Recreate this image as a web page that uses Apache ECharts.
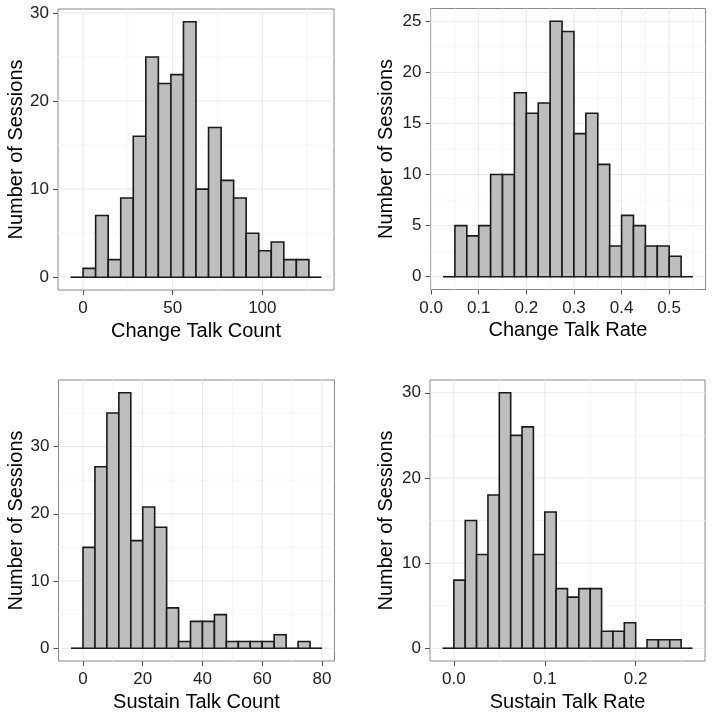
<!DOCTYPE html>
<html>
<head>
<meta charset="utf-8">
<script src="https://cdn.jsdelivr.net/npm/echarts@6/dist/echarts.min.js"></script>
<style>html,body{margin:0;padding:0;background:#fff}#c{width:714px;height:716px}</style>
</head>
<body>
<div id="c"></div>
<script>
// ---- Data (histogram counts; end bins are empty padding bins) ----
const ctCountStart = -7, ctCountWidth = 7;
const ctCount = [0,1,7,2,9,16,25,22,23,29,10,17,11,9,5,3,4,2,2,0];

const ctRateStart = 0.025, ctRateWidth = 0.025;
const ctRate = [0,5,4,5,10,10,18,16,17,25,24,14,16,11,3,6,5,3,3,2,0];

const stCountStart = -4, stCountWidth = 4;
const stCount = [0,15,27,35,38,16,21,18,6,1,4,4,5,1,1,1,1,2,0,1,0];

const stRateStart = -0.0125, stRateWidth = 0.0125;
const stRate = [0,8,15,11,18,30,25,26,11,16,7,6,7,7,2,2,3,0,1,1,1,0];

// tick labels
const xTicks1 = [0,50,100],            xMinor1 = [25,75,125];
const yTicks1 = [0,10,20,30],          yMinor1 = [5,15,25];
const xTicks2 = [0,0.1,0.2,0.3,0.4,0.5], xMinor2 = [0.05,0.15,0.25,0.35,0.45,0.55];
const yTicks2 = [0,5,10,15,20,25],     yMinor2 = [2.5,7.5,12.5,17.5,22.5];
const xTicks3 = [0,20,40,60,80],       xMinor3 = [10,30,50,70];
const yTicks3 = [0,10,20,30],          yMinor3 = [5,15,25,35];
const xTicks4 = [0,0.1,0.2],           xMinor4 = [0.05,0.15,0.25];
const yTicks4 = [0,10,20,30],          yMinor4 = [5,15,25];

const xTitles = ['Change Talk Count','Change Talk Rate','Sustain Talk Count','Sustain Talk Rate'];
const yTitle = 'Number of Sessions';

// ---- Build ----
const FONT = '"Liberation Sans", Arial, sans-serif';
const panels = [
  {start: ctCountStart, w: ctCountWidth, counts: ctCount, xt: xTicks1, xm: xMinor1, yt: yTicks1, ym: yMinor1, dec: 0,
   grid: {left: 58, top: 9, width: 276, height: 281}, xr: [-14, 140], yr: [-1.45, 30.45], yGap: 31},
  {start: ctRateStart, w: ctRateWidth, counts: ctRate, xt: xTicks2, xm: xMinor2, yt: yTicks2, ym: yMinor2, dec: 1,
   grid: {left: 430.5, top: 8.5, width: 275, height: 281}, xr: [-0.00125, 0.57625], yr: [-1.25, 26.25], yGap: 34},
  {start: stCountStart, w: stCountWidth, counts: stCount, xt: xTicks3, xm: xMinor3, yt: yTicks3, ym: yMinor3, dec: 0,
   grid: {left: 58.5, top: 380, width: 276, height: 281}, xr: [-8.2, 84.2], yr: [-1.9, 39.9], yGap: 31},
  {start: stRateStart, w: stRateWidth, counts: stRate, xt: xTicks4, xm: xMinor4, yt: yTicks4, ym: yMinor4, dec: 1,
   grid: {left: 430, top: 380, width: 275, height: 281}, xr: [-0.02625, 0.27625], yr: [-1.5, 31.5], yGap: 34}
];

const grids = [], xAxes = [], yAxes = [], series = [];
panels.forEach((p, i) => {
  grids.push(Object.assign({show: true, borderColor: '#8a8a8a', borderWidth: 1, backgroundColor: '#fff',
    containLabel: false, outerBoundsMode: 'none'}, p.grid));
  xAxes.push({
    type: 'value', gridIndex: i, min: p.xr[0], max: p.xr[1],
    axisLine: {show: false, onZero: false}, splitLine: {show: false},
    axisTick: {show: true, length: 5, customValues: p.xt, lineStyle: {color: '#555', width: 1}},
    axisLabel: {customValues: p.xt, margin: 10, color: '#222', fontSize: 17, fontFamily: FONT,
      formatter: v => Number(v).toFixed(p.dec)},
    name: xTitles[i], nameLocation: 'middle', nameGap: 31,
    nameTextStyle: {fontSize: 20, color: '#000', fontFamily: FONT}
  });
  yAxes.push({
    type: 'value', gridIndex: i, min: p.yr[0], max: p.yr[1],
    axisLine: {show: false, onZero: false}, splitLine: {show: false},
    axisTick: {show: true, length: 5, customValues: p.yt, lineStyle: {color: '#555', width: 1}},
    axisLabel: {customValues: p.yt, margin: 9, color: '#222', fontSize: 17, fontFamily: FONT},
    name: yTitle, nameLocation: 'middle', nameGap: p.yGap,
    nameTextStyle: {fontSize: 20, color: '#000', fontFamily: FONT}
  });
  // grid lines (major/minor) from tick arrays
  const gl = [];
  p.xm.forEach(v => gl.push([v, 0, 0]));
  p.ym.forEach(v => gl.push([0, v, 1]));
  p.xt.forEach(v => gl.push([v, 0, 2]));
  p.yt.forEach(v => gl.push([0, v, 3]));
  series.push({
    type: 'custom', xAxisIndex: i, yAxisIndex: i, silent: true, z: 1,
    data: gl,
    renderItem: (params, api) => {
      const cs = params.coordSys;
      const kind = api.value(2);
      const color = kind < 2 ? '#f5f5f5' : '#e8e8e8';
      let shape;
      if (kind === 0 || kind === 2) {
        const x = api.coord([api.value(0), p.yr[0]])[0];
        if (x < cs.x || x > cs.x + cs.width) return;
        shape = {x1: x, y1: cs.y, x2: x, y2: cs.y + cs.height};
      } else {
        const y = api.coord([p.xr[0], api.value(1)])[1];
        if (y < cs.y || y > cs.y + cs.height) return;
        shape = {x1: cs.x, y1: y, x2: cs.x + cs.width, y2: y};
      }
      return {type: 'line', shape: shape, style: {stroke: color, lineWidth: 1}};
    }
  });
  // histogram bars
  const bars = p.counts.map((c, k) => [p.start + k * p.w, p.start + (k + 1) * p.w, c]);
  series.push({
    type: 'custom', xAxisIndex: i, yAxisIndex: i, silent: true, z: 2,
    data: bars,
    encode: {x: [0, 1], y: 2},
    renderItem: (params, api) => {
      const a = api.coord([api.value(0), 0]);
      const b = api.coord([api.value(1), api.value(2)]);
      if (api.value(2) === 0) {
        return {type: 'line', shape: {x1: a[0], y1: a[1], x2: b[0], y2: a[1]},
          style: {stroke: '#1a1a1a', lineWidth: 1.6}};
      }
      return {type: 'rect', shape: {x: a[0], y: b[1], width: b[0] - a[0], height: a[1] - b[1]},
        style: {fill: '#bebebe', stroke: '#1a1a1a', lineWidth: 1.6}};
    }
  });
});

const chart = echarts.init(document.getElementById('c'), null, {renderer: 'canvas'});
chart.setOption({
  animation: false,
  backgroundColor: '#fff',
  grid: grids, xAxis: xAxes, yAxis: yAxes, series: series
});
</script>
</body>
</html>
